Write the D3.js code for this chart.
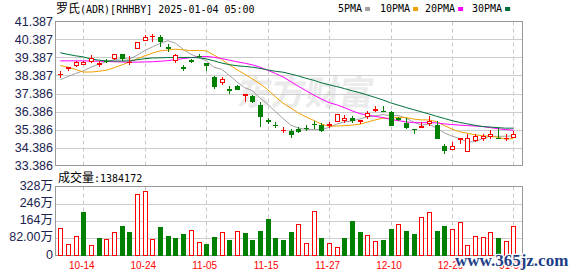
<!DOCTYPE html>
<html><head><meta charset="utf-8">
<script src="https://cdn.jsdelivr.net/npm/d3@7"></script>
<style>body{margin:0;background:#fff;} svg{display:block}</style>
</head><body>
<svg id="c" width="578" height="276"></svg>
<script>
const dates = ["10-09","10-10","10-11","10-14","10-15","10-16","10-17","10-18","10-21","10-22","10-23","10-24","10-25","10-28","10-29","10-30","10-31","11-01","11-04","11-05","11-06","11-07","11-08","11-11","11-12","11-13","11-14","11-15","11-18","11-19","11-20","11-21","11-22","11-25","11-26","11-27","11-29","12-02","12-03","12-04","12-05","12-06","12-09","12-10","12-11","12-12","12-13","12-16","12-17","12-18","12-19","12-20","12-23","12-24","12-26","12-27","12-30","12-31","01-02","01-03"];
const open  = [38.46,38.80,38.96,39.04,39.20,39.03,39.22,39.35,39.59,39.14,39.92,40.37,40.56,40.52,39.96,39.24,38.85,39.24,39.49,39.07,38.28,38.05,37.62,37.83,37.33,37.22,36.76,35.90,35.66,35.36,35.33,35.42,35.49,35.69,35.63,35.66,35.87,35.94,36.05,35.88,36.14,36.49,36.43,36.35,36.00,35.76,35.43,35.55,35.72,35.65,34.46,34.31,34.87,34.20,34.78,34.90,35.05,34.92,34.89,34.96];
const high  = [38.65,38.87,39.17,39.20,39.52,39.20,39.28,39.60,39.60,39.48,40.26,40.61,40.70,40.61,40.13,39.56,38.96,39.30,39.56,39.08,38.35,38.28,37.78,37.85,37.37,37.28,36.94,36.05,35.79,35.52,35.42,35.54,35.63,35.87,35.72,35.83,36.27,36.18,36.11,35.93,36.42,36.68,36.70,36.43,36.10,36.00,35.44,35.83,36.11,35.87,34.57,34.67,34.92,35.16,35.16,35.16,35.35,35.48,35.16,35.31];
const low   = [38.33,38.72,38.89,39.00,39.15,38.93,39.15,39.29,39.26,39.00,39.90,40.35,40.28,40.05,39.76,39.16,38.68,39.12,39.40,38.72,37.68,37.94,37.44,37.62,36.98,36.89,35.59,35.72,35.50,35.22,34.99,35.24,35.35,35.48,35.31,35.52,35.85,35.81,35.79,35.74,36.03,36.39,36.40,35.62,35.92,35.46,35.18,35.53,35.61,34.90,34.09,34.30,34.65,34.19,34.77,34.81,34.90,34.90,34.81,34.95];
const close = [38.48,38.85,39.15,39.12,39.38,39.10,39.20,39.57,39.37,39.16,40.24,40.52,40.60,40.33,39.93,39.53,38.82,39.22,39.47,38.98,37.78,38.18,37.60,37.63,37.36,36.98,36.11,35.88,35.64,35.38,35.13,35.31,35.47,35.67,35.37,35.70,36.24,36.05,35.93,35.91,36.30,36.52,36.41,35.65,35.98,35.54,35.41,35.58,35.87,34.91,34.24,34.48,34.89,34.94,35.02,35.05,35.16,34.90,34.93,35.16];
const volume = [1296000,560000,944000,2060000,510000,816000,768000,1136000,1390000,1100000,2910000,3070000,768000,1340000,910000,816000,1010000,1200000,624000,528000,864000,1100000,720000,1150000,1056000,720000,1150000,1730000,816000,720000,1100000,1490000,576000,2110000,816000,610000,384000,816000,1630000,1100000,960000,670000,720000,1250000,1520000,1150000,1010000,1810000,2050000,1150000,1390000,1250000,1570000,510000,940000,860000,1100000,820000,700000,1384172];
const ma5  = [38.15,38.33,38.50,38.65,38.85,39.02,39.15,39.26,39.32,39.30,39.51,39.77,39.98,40.17,40.32,40.18,39.84,39.57,39.39,39.20,38.85,38.73,38.40,38.03,37.71,37.55,37.14,36.79,36.39,36.00,35.63,35.47,35.39,35.39,35.39,35.50,35.69,35.81,35.86,35.97,36.09,36.14,36.21,36.16,36.17,36.02,35.80,35.63,35.68,35.46,35.20,35.02,34.88,34.69,34.71,34.88,35.01,35.01,35.01,35.04];
const ma10 = [38.94,38.85,38.72,38.58,38.58,38.62,38.68,38.82,38.97,39.14,39.31,39.48,39.63,39.75,39.80,39.85,39.81,39.77,39.78,39.76,39.52,39.28,38.98,38.71,38.46,38.20,37.93,37.60,37.21,36.85,36.59,36.30,36.09,35.89,35.69,35.57,35.58,35.60,35.63,35.68,35.80,35.92,36.01,36.01,36.07,36.05,35.97,35.92,35.92,35.82,35.61,35.41,35.26,35.18,35.09,35.04,35.01,34.95,34.85,34.88];
const ma20 = [39.20,39.20,39.20,39.20,39.19,39.18,39.17,39.15,39.14,39.13,39.13,39.14,39.15,39.18,39.21,39.27,39.33,39.38,39.42,39.45,39.40,39.33,39.24,39.15,39.07,38.98,38.85,38.68,38.50,38.31,38.05,37.79,37.54,37.30,37.08,36.88,36.76,36.60,36.42,36.27,36.19,36.11,36.05,35.95,35.88,35.81,35.77,35.76,35.77,35.75,35.70,35.66,35.63,35.60,35.58,35.55,35.49,35.43,35.38,35.35];
const ma30 = [39.65,39.56,39.48,39.42,39.30,39.24,39.20,39.19,39.19,39.20,39.26,39.32,39.36,39.37,39.38,39.39,39.39,39.39,39.37,39.31,39.20,39.08,38.99,38.93,38.89,38.85,38.78,38.70,38.62,38.57,38.47,38.36,38.23,38.12,37.98,37.87,37.77,37.66,37.54,37.43,37.30,37.17,37.03,36.87,36.74,36.61,36.49,36.37,36.25,36.12,36.00,35.88,35.78,35.70,35.62,35.55,35.52,35.49,35.46,35.46];
const priceTickLabels = ["41.387","40.387","39.387","38.387","37.386","36.386","35.386","34.386","33.386"];
const volTickValues = [0,820000,1640000,2460000,3280000];
const volTickLabels = ["0","82.00万","164万","246万","328万"];
const xTickLabels = ["10-14","10-24","11-05","11-15","11-27","12-10","12-20","01-03"];
const legendNames = ["5PMA","10PMA","20PMA","30PMA"];

const RED = "#ff0000", GREEN = "#008000";
const maColors = ["#a0a0a0","#f0a000","#ff00ff","#00703a"];
const svg = d3.select("#c");
const L = 55.5, R = 522.5, PT = 21.5, PB = 165.5, VT = 186.5, VB = 255.5;

const x = d3.scaleLinear().domain([0, dates.length - 1]).range([60.3, 513.4]);
const y = d3.scaleLinear().domain([33.386, 41.387]).range([PB, PT]);
const yv = d3.scaleLinear().domain([0, 3280000]).range([VB, VT]);
const px = i => Math.round(x(i)) + 0.5;
const tickIdx = xTickLabels.map(l => dates.indexOf(l));

// watermark
svg.append("text").attr("x", 238).attr("y", 105)
  .attr("font-family", "Noto Sans CJK SC").attr("font-weight", "bold").attr("font-size", 34)
  .attr("fill", "#ebebeb").attr("transform", "skewX(-8) translate(13,0)")
  .text("东方财富");

// grids
const priceVals = priceTickLabels.map(Number);
svg.append("g").selectAll("line").data(priceVals.slice(1, -1)).join("line")
  .attr("x1", L).attr("x2", R).attr("y1", d => Math.round(y(d)) + 0.5).attr("y2", d => Math.round(y(d)) + 0.5)
  .attr("stroke", "#cccccc");
svg.append("g").selectAll("line").data(volTickValues.slice(1, -1)).join("line")
  .attr("x1", L).attr("x2", R).attr("y1", d => Math.round(yv(d)) + 0.5).attr("y2", d => Math.round(yv(d)) + 0.5)
  .attr("stroke", "#cccccc");
[[PT, PB], [VT, VB]].forEach(([a, b]) => {
  svg.append("g").selectAll("line").data(tickIdx).join("line")
    .attr("x1", d => px(d)).attr("x2", d => px(d)).attr("y1", a).attr("y2", b)
    .attr("stroke", "#c8c8c8").attr("stroke-dasharray", "4,3");
});

// frames
svg.append("rect").attr("x", L).attr("y", PT).attr("width", R - L).attr("height", PB - PT)
  .attr("fill", "none").attr("stroke", "#999");
svg.append("rect").attr("x", L).attr("y", VT).attr("width", R - L).attr("height", VB - VT)
  .attr("fill", "none").attr("stroke", "#999");

// MA lines
svg.append("clipPath").attr("id", "pc").append("rect").attr("x", L).attr("y", PT).attr("width", R - L).attr("height", PB - PT);
const line = d3.line().x((d, i) => x(i)).y(d => y(d));
[ma5, ma10, ma20, ma30].forEach((s, k) => {
  svg.append("path").attr("d", line(s)).attr("fill", "none")
    .attr("stroke", maColors[k]).attr("stroke-width", 1).attr("clip-path", "url(#pc)");
});

// candles
const cg = svg.append("g");
dates.forEach((d, i) => {
  const o = open[i], c = close[i], up = c >= o;
  const col = up ? RED : GREEN;
  const cx = px(i);
  cg.append("line").attr("x1", cx).attr("x2", cx)
    .attr("y1", Math.round(y(high[i]))).attr("y2", Math.round(y(low[i])) + 1)
    .attr("stroke", col);
  const t = Math.round(y(Math.max(o, c))), b = Math.round(y(Math.min(o, c)));
  if (b - t < 1) {
    cg.append("line").attr("x1", cx - 2.5).attr("x2", cx + 2.5).attr("y1", t + 0.5).attr("y2", t + 0.5).attr("stroke", col);
  } else {
    cg.append("rect").attr("x", cx - 2).attr("y", t + 0.5).attr("width", 4).attr("height", b - t)
      .attr("fill", up ? "#fff" : GREEN).attr("stroke", col);
  }
});

// volume bars
svg.append("g").selectAll("rect").data(volume).join("rect")
  .attr("x", (d, i) => px(i) - 2)
  .attr("y", d => Math.round(yv(d)) + 0.5)
  .attr("width", 4)
  .attr("height", d => Math.max(0, 255 - Math.round(yv(d))))
  .attr("fill", (d, i) => (i === 0 || close[i] >= close[i - 1]) ? "#fff" : GREEN)
  .attr("stroke", (d, i) => (i === 0 || close[i] >= close[i - 1]) ? RED : GREEN);

// axes
const yAxis = d3.axisLeft(y).tickValues(priceVals).tickFormat((d, i) => priceTickLabels[i]).tickSize(0).tickPadding(0);
const gy = svg.append("g").attr("transform", "translate(53,0)").call(yAxis);
const vAxis = d3.axisLeft(yv).tickValues(volTickValues).tickFormat((d, i) => volTickLabels[i]).tickSize(0).tickPadding(0);
const gv = svg.append("g").attr("transform", "translate(53,-1.5)").call(vAxis);
[gy, gv].forEach(g => {
  g.select(".domain").remove();
  g.selectAll("text").attr("font-family", "Liberation Sans, Noto Sans CJK SC").attr("font-size", 12.5).attr("fill", "#1a2350");
});
const xAxis = d3.axisBottom(x).tickValues(tickIdx).tickFormat(i => dates[i]).tickSize(0).tickPadding(0);
const gx = svg.append("g").attr("transform", "translate(-2,262)").call(xAxis);
gx.select(".domain").remove();
gx.selectAll("text").attr("font-family", "Liberation Sans").attr("font-size", 10).attr("fill", RED);

// title
const title = svg.append("text").attr("x", 56).attr("y", 13).attr("fill", "#000");
title.append("tspan").attr("font-family", "Noto Sans CJK SC").attr("font-size", 12).text("罗氏");
title.append("tspan").attr("font-family", "DejaVu Sans Mono").attr("font-size", 10).text("(ADR)[RHHBY] 2025-01-04 05:00");

// legend
const legX = [338, 380, 425, 472];
legendNames.forEach((n, k) => {
  const tw = n.length * 6.02;
  svg.append("text").attr("x", legX[k]).attr("y", 12).attr("font-family", "DejaVu Sans Mono").attr("font-size", 10).attr("fill", "#000").text(n);
  svg.append("rect").attr("x", legX[k] + tw + 3).attr("y", 7).attr("width", 5).attr("height", 4).attr("fill", maColors[k]);
});

// volume caption
const vc = svg.append("text").attr("x", 58).attr("y", 182).attr("fill", "#000");
vc.append("tspan").attr("font-family", "Noto Sans CJK SC").attr("font-size", 12).text("成交量");
vc.append("tspan").attr("font-family", "DejaVu Sans Mono").attr("font-size", 10).text(":" + volume[volume.length - 1]);

// site watermark
svg.append("text").attr("x", 455).attr("y", 266)
  .attr("font-family", "Liberation Serif").attr("font-weight", "bold").attr("font-size", 17)
  .attr("fill", "#1f3f88").attr("stroke", "#fff").attr("stroke-width", 2.5).attr("paint-order", "stroke")
  .text("www.365jz.com");
</script>
</body></html>
